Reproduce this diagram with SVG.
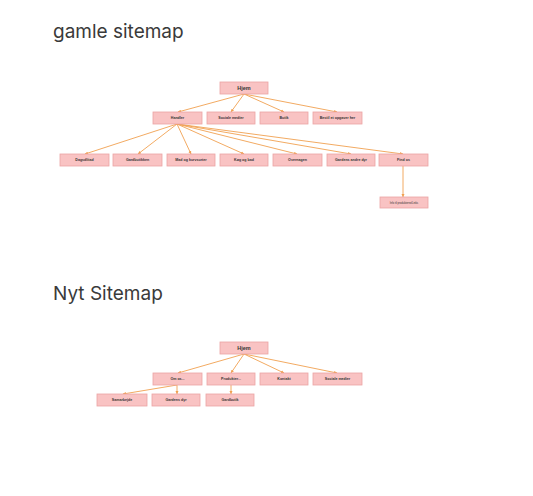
<svg xmlns="http://www.w3.org/2000/svg" width="533" height="496" viewBox="0 0 533 496">
<defs>
<style>
.title{font-family:Inter,"Liberation Sans",sans-serif;font-size:19px;fill:#3a3a3a}
.box{fill:#f9c3c3;stroke:#eba4a4;stroke-width:0.8}
.lbl{font-family:"Liberation Sans",Arial,sans-serif;font-size:3.6px;fill:#333;text-anchor:middle;font-weight:bold}
.big{font-size:5.5px}
.con{fill:none;stroke:#f0a050;stroke-width:0.9}
</style>
<marker id="ah" viewBox="0 0 6 6" refX="5" refY="3" markerWidth="4" markerHeight="4" orient="auto">
<path d="M0,0.5 L5.5,3 L0,5.5 z" fill="#f0a050"/>
</marker>
</defs>
<rect width="533" height="496" fill="#fff"/>
<text class="title" x="53" y="38">gamle sitemap</text>
<text class="title" x="53" y="300">Nyt Sitemap</text>

<g id="connectors">
<path class="con" marker-end="url(#ah)" d="M244,94 L178,112"/>
<path class="con" marker-end="url(#ah)" d="M244,94 L231,112"/>
<path class="con" marker-end="url(#ah)" d="M244,94 L284,112"/>
<path class="con" marker-end="url(#ah)" d="M244,94 L337,112"/>
<path class="con" marker-end="url(#ah)" d="M177,124 L85,154"/>
<path class="con" marker-end="url(#ah)" d="M177,124 L138,154"/>
<path class="con" marker-end="url(#ah)" d="M177,124 L191,154"/>
<path class="con" marker-end="url(#ah)" d="M177,124 L244,154"/>
<path class="con" marker-end="url(#ah)" d="M177,124 L297,154"/>
<path class="con" marker-end="url(#ah)" d="M177,124 L351,154"/>
<path class="con" marker-end="url(#ah)" d="M177,124 L403,154"/>
<path class="con" marker-end="url(#ah)" d="M403,166 L403,197"/>
<path class="con" marker-end="url(#ah)" d="M244,354 L178,373"/>
<path class="con" marker-end="url(#ah)" d="M244,354 L231,373"/>
<path class="con" marker-end="url(#ah)" d="M244,354 L284,373"/>
<path class="con" marker-end="url(#ah)" d="M244,354 L337,373"/>
<path class="con" marker-end="url(#ah)" d="M177,385 L123,394"/>
<path class="con" marker-end="url(#ah)" d="M177,385 L177,394"/>
<path class="con" marker-end="url(#ah)" d="M231,385 L231,394"/>
</g>

<g id="o-hjem"><rect class="box" x="220" y="82" width="48" height="12"/><text class="lbl big" x="244" y="90">Hjem</text></g>
<g id="o-handler"><rect class="box" x="153" y="112" width="49" height="12"/><text class="lbl" x="177.5" y="119.3">Handler</text></g>
<g id="o-sociale"><rect class="box" x="207" y="112" width="48" height="12"/><text class="lbl" x="231" y="119.3">Sociale medier</text></g>
<g id="o-butik"><rect class="box" x="260" y="112" width="48" height="12"/><text class="lbl" x="284" y="119.3">Butik</text></g>
<g id="o-bestil"><rect class="box" x="313" y="112" width="49" height="12"/><text class="lbl" x="337.5" y="119.3">Bestil et opgaver her</text></g>

<g id="o-dagsdlitad"><rect class="box" x="60" y="154" width="49" height="12"/><text class="lbl" x="84.5" y="161.3">Dagsdlitad</text></g>
<g id="o-gardbutikken"><rect class="box" x="113" y="154" width="49" height="12"/><text class="lbl" x="137.5" y="161.3">Gårdbutikken</text></g>
<g id="o-mad"><rect class="box" x="167" y="154" width="48" height="12"/><text class="lbl" x="191" y="161.3">Mad og kurvsurter</text></g>
<g id="o-kog"><rect class="box" x="220" y="154" width="48" height="12"/><text class="lbl" x="244" y="161.3">Køg og bad</text></g>
<g id="o-overnagen"><rect class="box" x="273" y="154" width="49" height="12"/><text class="lbl" x="297.5" y="161.3">Overnagen</text></g>
<g id="o-gardens"><rect class="box" x="327" y="154" width="48" height="12"/><text class="lbl" x="351" y="161.3">Gårdens andre dyr</text></g>
<g id="o-findos"><rect class="box" x="379" y="154" width="49" height="12"/><text class="lbl" x="403.5" y="161.3">Find os</text></g>
<g id="o-info"><rect class="box" x="380" y="197" width="48" height="11"/><text class="lbl" style="font-size:2.6px;font-weight:normal" x="404" y="203.6">Info til produkterne/Links</text></g>

<g id="n-hjem"><rect class="box" x="220" y="342" width="48" height="12"/><text class="lbl big" x="244" y="350">Hjem</text></g>
<g id="n-omos"><rect class="box" x="153" y="373" width="49" height="12"/><text class="lbl" x="177.5" y="380.3">Om os...</text></g>
<g id="n-produkter"><rect class="box" x="207" y="373" width="48" height="12"/><text class="lbl" x="231" y="380.3">Produkter...</text></g>
<g id="n-kontakt"><rect class="box" x="260" y="373" width="48" height="12"/><text class="lbl" x="284" y="380.3">Kontakt</text></g>
<g id="n-sociale"><rect class="box" x="313" y="373" width="49" height="12"/><text class="lbl" x="337.5" y="380.3">Sociale medier</text></g>
<g id="n-samarbejde"><rect class="box" x="97" y="394" width="50" height="12"/><text class="lbl" x="122" y="401.3">Samarbejde</text></g>
<g id="n-gardensdyr"><rect class="box" x="152" y="394" width="48" height="12"/><text class="lbl" x="176" y="401.3">Gårdens dyr</text></g>
<g id="n-gardbutik"><rect class="box" x="206" y="394" width="48" height="12"/><text class="lbl" x="230" y="401.3">Gårdbutik</text></g>
</svg>
